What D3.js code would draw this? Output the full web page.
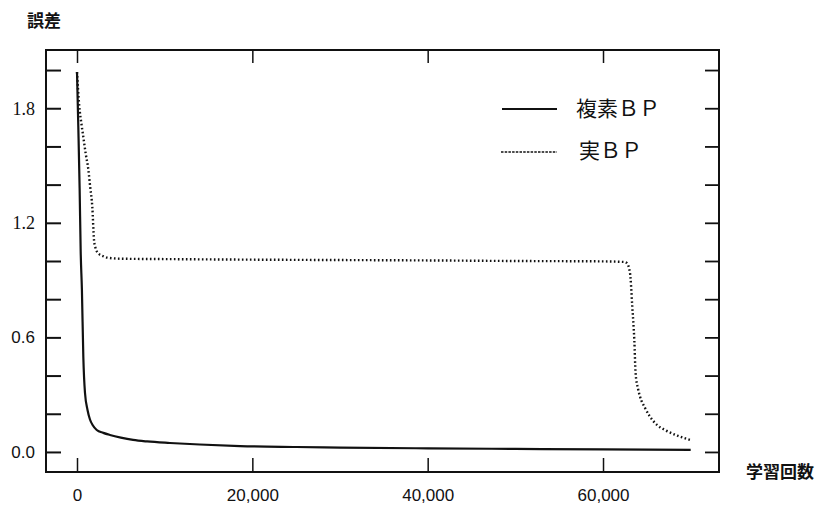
<!DOCTYPE html>
<html>
<head>
<meta charset="utf-8">
<script src="https://cdn.jsdelivr.net/npm/d3@7"></script>
<style>
  html, body { margin: 0; padding: 0; background: #fff; }
  svg { display: block; }
</style>
</head>
<body>
<svg id="chart" width="821" height="510"></svg>
<script>
// ---- data ----
const complexIter = [0, 150, 300, 420, 560, 720, 910, 1200, 1480, 1800, 2250, 3000, 3760, 5000, 6400, 8000, 10600, 14000, 18600, 25000, 30000, 40000, 50000, 60000, 70000];
const complexErr  = [1.99, 1.70, 1.38, 1.05, 0.85, 0.50, 0.31, 0.22, 0.17, 0.14, 0.115, 0.10, 0.089, 0.075, 0.063, 0.055, 0.047, 0.039, 0.031, 0.026, 0.023, 0.019, 0.016, 0.013, 0.011];

const realIter = [0, 260, 500, 720, 1000, 1290, 1500, 1750, 1940, 2100, 2430, 3000, 3400, 5000, 10000, 20000, 30000, 40000, 50000, 60000, 62400, 62700, 63070, 63340, 63570, 63720, 64000, 64220, 64800, 65360, 66200, 67070, 68500, 69920];
const realErr  = [1.99, 1.81, 1.72, 1.65, 1.56, 1.48, 1.39, 1.28, 1.11, 1.07, 1.04, 1.025, 1.018, 1.012, 1.010, 1.007, 1.005, 1.003, 1.000, 0.998, 0.995, 0.99, 0.94, 0.76, 0.586, 0.41, 0.33, 0.29, 0.23, 0.185, 0.14, 0.115, 0.085, 0.063];

const xTicks = [0, 20000, 40000, 60000];
const yTicks = [0, 0.2, 0.4, 0.6, 0.8, 1.0, 1.2, 1.4, 1.6, 1.8, 2.0];
const yLabelTicks = [0, 0.6, 1.2, 1.8];
const seriesNames = ["複素ＢＰ", "実ＢＰ"];
const yTitle = "誤差";
const xTitle = "学習回数";

// ---- layout ----
const svg = d3.select("#chart");
const L = 46, T = 50, R = 719, B = 472;

const x = d3.scaleLinear().domain([-3536, 73230]).range([L, R]);
const y = d3.scaleLinear().domain([-0.105, 2.105]).range([B, T]);

const sansFont = "'Liberation Sans', Arial, sans-serif";
const serifFont = "'Liberation Serif', 'Times New Roman', serif";
const cjkFont = "'Noto Sans CJK JP', 'Noto Sans CJK SC', sans-serif";

// frame
svg.append("rect")
  .attr("x", L).attr("y", T).attr("width", R - L).attr("height", B - T)
  .attr("fill", "none").attr("stroke", "#111").attr("stroke-width", 2);

const isLabel = d => yLabelTicks.some(v => Math.abs(v - d) < 1e-9);

// left axis (ticks inward)
const gl = svg.append("g").attr("transform", `translate(${L},0)`)
  .call(d3.axisLeft(y).tickValues(yTicks).tickSizeInner(-15).tickSizeOuter(0).tickPadding(11)
    .tickFormat(d => isLabel(d) ? d3.format(".1f")(d) : ""));
gl.select(".domain").remove();
gl.selectAll(".tick line").attr("stroke", "#111").attr("stroke-width", 2);
gl.selectAll(".tick text")
  .attr("fill", "#111")
  .style("font-family", d => (d > 1) ? serifFont : sansFont)
  .style("font-size", d => (d > 1) ? "18px" : "17px");

// right axis (ticks inward, no labels)
const gr = svg.append("g").attr("transform", `translate(${R},0)`)
  .call(d3.axisRight(y).tickValues(yTicks).tickSizeInner(-14).tickSizeOuter(0).tickFormat(""));
gr.select(".domain").remove();
gr.selectAll(".tick line").attr("stroke", "#111").attr("stroke-width", 1.8);

// bottom axis
const gb = svg.append("g").attr("transform", `translate(0,${B})`)
  .call(d3.axisBottom(x).tickValues(xTicks).tickSizeInner(-14).tickSizeOuter(0).tickPadding(17)
    .tickFormat(d3.format(",")));
gb.select(".domain").remove();
gb.selectAll(".tick line").attr("stroke", "#111").attr("stroke-width", 1.5);
gb.selectAll(".tick text").attr("fill", "#111").style("font-family", sansFont).style("font-size", "17px");

// top axis
const gt = svg.append("g").attr("transform", `translate(0,${T})`)
  .call(d3.axisTop(x).tickValues(xTicks).tickSizeInner(-13).tickSizeOuter(0).tickFormat(""));
gt.select(".domain").remove();
gt.selectAll(".tick line").attr("stroke", "#111").attr("stroke-width", 1.5);

// lines
const line = d3.line().x(d => x(d[0])).y(d => y(d[1])).curve(d3.curveMonotoneX);
const complexData = complexIter.map((v, i) => [v, complexErr[i]]);
const realData = realIter.map((v, i) => [v, realErr[i]]);

svg.append("path").datum(complexData)
  .attr("d", line).attr("fill", "none").attr("stroke", "#111").attr("stroke-width", 2.2);

svg.append("path").datum(realData)
  .attr("d", line).attr("fill", "none").attr("stroke", "#111").attr("stroke-width", 2.4)
  .attr("stroke-dasharray", "1.6,2.4");

// legend
const lg = svg.append("g");
lg.append("line").attr("x1", 502).attr("x2", 557).attr("y1", 109).attr("y2", 109)
  .attr("stroke", "#111").attr("stroke-width", 2.2);
lg.append("text").attr("x", 576).attr("y", 116).text(seriesNames[0])
  .style("font-family", cjkFont).style("font-size", "21px").attr("fill", "#111");
lg.append("line").attr("x1", 501).attr("x2", 557).attr("y1", 152).attr("y2", 152)
  .attr("stroke", "#111").attr("stroke-width", 1.5).attr("stroke-dasharray", "2.5,1.2");
lg.append("text").attr("x", 579).attr("y", 158).text(seriesNames[1])
  .style("font-family", cjkFont).style("font-size", "21px").attr("fill", "#111");

// titles
svg.append("text").attr("x", 27).attr("y", 27).text(yTitle)
  .style("font-family", cjkFont).style("font-size", "17px").style("font-weight", "bold").attr("fill", "#111");
svg.append("text").attr("x", 746).attr("y", 478).text(xTitle)
  .style("font-family", cjkFont).style("font-size", "17px").style("font-weight", "bold").attr("fill", "#111");
</script>
</body>
</html>
